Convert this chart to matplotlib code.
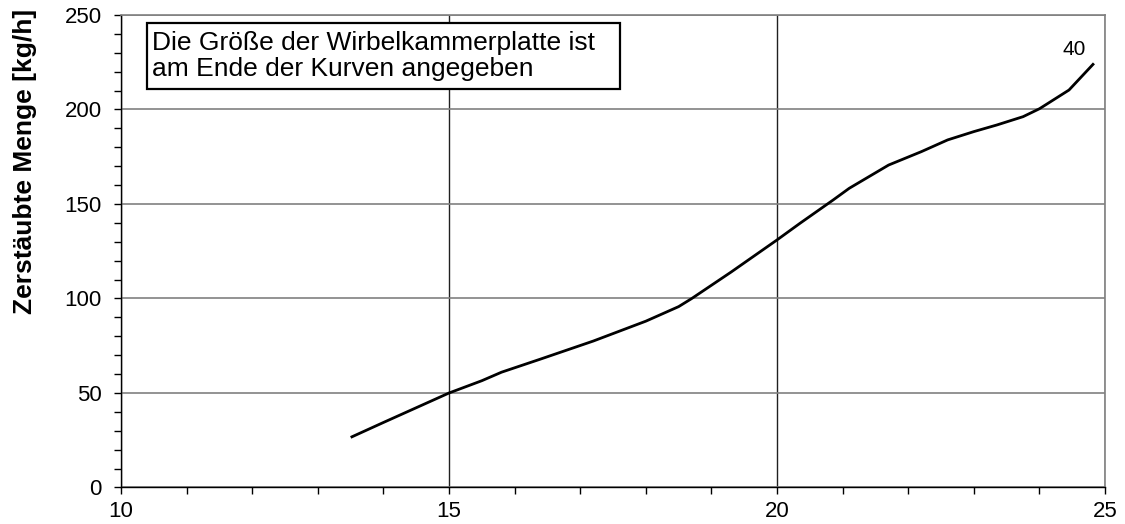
import matplotlib
matplotlib.use("Agg")
import matplotlib.pyplot as plt
from matplotlib.patches import Rectangle
from matplotlib.ticker import MultipleLocator

plt.rcParams['font.family'] = ['Liberation Sans', 'DejaVu Sans']

x_vals = [13.5, 14.0, 14.5, 15.0, 15.5, 15.8, 16.4, 17.2, 18.0, 18.5, 18.7, 19.3,
          20.0, 20.35, 20.85, 21.1, 21.7, 22.2, 22.6, 23.0, 23.35, 23.75, 24.0,
          24.45, 24.83]
y_vals = [26.5, 34.4, 42.2, 50.0, 56.5, 61.0, 68.0, 77.5, 88.0, 95.7, 100.0, 114.0,
          131.0, 139.8, 152.0, 158.3, 170.6, 177.7, 183.9, 188.3, 191.8, 196.2, 200.4,
          210.3, 224.4]
curve_label = "40"
ylabel = "Zerstäubte Menge [kg/h]"
note = "Die Größe der Wirbelkammerplatte ist\nam Ende der Kurven angegeben"

fig = plt.figure(figsize=(11.25, 5.24), dpi=100)
ax = fig.add_axes([0.1076, 0.0697, 0.8747, 0.9017])

ax.plot(x_vals, y_vals, color='black', lw=2.0, solid_capstyle='butt',
        solid_joinstyle='round', zorder=3)

ax.set_xlim(10, 25)
ax.set_ylim(0, 250)
ax.xaxis.set_major_locator(MultipleLocator(5))
ax.xaxis.set_minor_locator(MultipleLocator(1))
ax.yaxis.set_major_locator(MultipleLocator(50))
ax.yaxis.set_minor_locator(MultipleLocator(10))

ax.tick_params(axis='both', which='major', direction='out', length=5, width=1,
               labelsize=16, color='black')
ax.tick_params(axis='both', which='minor', direction='out', length=5, width=1, color='black')
ax.tick_params(axis='x', which='major', pad=5)
ax.tick_params(axis='y', which='major', pad=9)

ax.grid(axis='y', which='major', color='#808080', lw=1.2)
ax.grid(axis='x', which='major', color='#202020', lw=1.0)
ax.set_axisbelow(True)

for side in ['top', 'right']:
    ax.spines[side].set_color('#808080')
    ax.spines[side].set_linewidth(1.2)
for side in ['left', 'bottom']:
    ax.spines[side].set_color('black')
    ax.spines[side].set_linewidth(1.0)

ax.set_ylabel(ylabel, fontsize=19, fontweight='bold')
ax.yaxis.set_label_coords(-0.085, 0.69)

ax.text(24.53, 231.5, curve_label, fontsize=15, ha='center', va='center')

# note box
ax.add_patch(Rectangle((0.0264, 0.8427), 0.4807, 0.1410, transform=ax.transAxes,
                       facecolor='white', edgecolor='black', lw=1.6, zorder=4))
ax.text(0.0315, 0.9132, note, transform=ax.transAxes, fontsize=19, ha='left',
        va='center', linespacing=1.12, zorder=5)

fig.savefig("out.png", dpi=100)
